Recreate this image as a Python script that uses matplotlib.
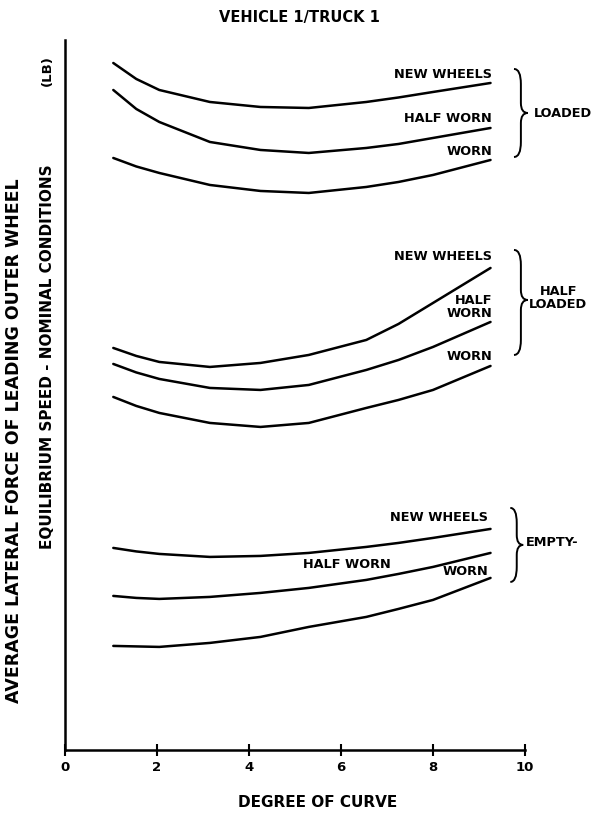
import numpy as np
import matplotlib
matplotlib.use("Agg")
import matplotlib.pyplot as plt
from matplotlib.path import Path
from matplotlib.patches import PathPatch

deg = [1.05, 1.55, 2.05, 3.15, 4.25, 5.3, 6.55, 7.25, 8.0, 9.25]

# average lateral force, arbitrary units (no y scale on the original)
loaded_new = [68.7, 67.1, 66.0, 64.8, 64.3, 64.2, 64.8, 65.25, 65.8, 66.7]
loaded_half = [66.0, 64.1, 62.8, 60.8, 60.0, 59.7, 60.2, 60.6, 61.2, 62.2]
loaded_worn = [59.2, 58.35, 57.7, 56.5, 55.9, 55.7, 56.3, 56.8, 57.5, 59.0]

halfl_new = [40.2, 39.4, 38.8, 38.3, 38.7, 39.5, 41.0, 42.6, 44.7, 48.2]
halfl_half = [38.6, 37.75, 37.1, 36.2, 36.0, 36.5, 38.0, 39.0, 40.3, 42.8]
halfl_worn = [35.3, 34.4, 33.7, 32.7, 32.3, 32.7, 34.2, 35.0, 36.0, 38.4]

empty_new = [20.2, 19.85, 19.6, 19.3, 19.4, 19.7, 20.3, 20.7, 21.2, 22.1]
empty_half = [15.4, 15.2, 15.1, 15.3, 15.7, 16.2, 17.0, 17.6, 18.3, 19.7]
empty_worn = [10.4, 10.35, 10.3, 10.7, 11.3, 12.3, 13.3, 14.1, 15.0, 17.2]

xticks = [0, 2, 4, 6, 8, 10]

FONT = "DejaVu Sans"
plt.rcParams["font.family"] = FONT

fig = plt.figure(figsize=(5.99, 8.16), dpi=100)
ax = fig.add_axes([0.1085, 0.081, 0.768, 0.870])

for ys in [loaded_new, loaded_half, loaded_worn,
           halfl_new, halfl_half, halfl_worn,
           empty_new, empty_half, empty_worn]:
    ax.plot(deg, ys, color="black", lw=1.8, solid_joinstyle="round",
            solid_capstyle="round")

ax.set_xlim(0, 10)
ax.set_ylim(0, 71)
ax.spines["top"].set_visible(False)
ax.spines["right"].set_visible(False)
ax.spines["left"].set_linewidth(1.8)
ax.spines["bottom"].set_linewidth(1.8)
ax.set_yticks([])
ax.set_xticks(xticks)
ax.set_xticklabels([str(t) for t in xticks], fontsize=9.5, fontweight="bold")
ax.tick_params(axis="x", direction="inout", length=8, width=1.5, pad=4)


def brace(x0, x1, ytop, ybot, ymid):
    xm = (x0 + x1) / 2
    verts = [(x0, ytop), (xm, ytop), (xm, ytop - 1.5),
             (xm, ymid + 1.0),
             (xm, ymid), (x1, ymid),
             (xm, ymid), (xm, ymid - 1.0),
             (xm, ybot + 1.5),
             (xm, ybot), (x0, ybot)]
    codes = [Path.MOVETO, Path.CURVE3, Path.CURVE3,
             Path.LINETO,
             Path.CURVE3, Path.CURVE3,
             Path.CURVE3, Path.CURVE3,
             Path.LINETO,
             Path.CURVE3, Path.CURVE3]
    ax.add_patch(PathPatch(Path(verts, codes), fill=False, lw=1.4,
                           color="black", clip_on=False))


brace(9.76, 10.06, 68.1, 59.3, 63.7)
brace(9.76, 10.06, 50.0, 39.5, 45.0)
brace(9.68, 9.96, 24.2, 16.8, 20.5)

kw = dict(fontsize=9.3, fontweight="bold", color="black")
ax.text(9.28, 67.5, "NEW WHEELS", ha="right", va="center", **kw)
ax.text(9.28, 63.1, "HALF WORN", ha="right", va="center", **kw)
ax.text(9.28, 59.8, "WORN", ha="right", va="center", **kw)
ax.text(10.2, 63.6, "LOADED", ha="left", va="center", clip_on=False, **kw)

ax.text(9.28, 49.3, "NEW WHEELS", ha="right", va="center", **kw)
ax.text(9.28, 44.3, "HALF\nWORN", ha="right", va="center",
        multialignment="right", linespacing=0.95, **kw)
ax.text(9.28, 39.3, "WORN", ha="right", va="center", **kw)
ax.text(10.72, 45.2, "HALF\nLOADED", ha="center", va="center",
        linespacing=1.0, clip_on=False, **kw)

ax.text(9.2, 23.2, "NEW WHEELS", ha="right", va="center", **kw)
ax.text(6.13, 18.5, "HALF WORN", ha="center", va="center", **kw)
ax.text(9.2, 17.8, "WORN", ha="right", va="center", **kw)
ax.text(10.02, 20.7, "EMPTY-", ha="left", va="center", clip_on=False, **kw)

fig.text(0.50, 0.979, "VEHICLE 1/TRUCK 1", ha="center", va="center",
         fontsize=10.5, fontweight="bold")
fig.text(0.53, 0.017, "DEGREE OF CURVE", ha="center", va="center",
         fontsize=11, fontweight="bold")
fig.text(0.024, 0.46, "AVERAGE LATERAL FORCE OF LEADING OUTER WHEEL",
         rotation=90, ha="center", va="center", fontsize=12.5, fontweight="bold")
fig.text(0.079, 0.5625, "EQUILIBRIUM SPEED - NOMINAL CONDITIONS",
         rotation=90, ha="center", va="center", fontsize=11, fontweight="bold")
fig.text(0.079, 0.914, "(LB)", rotation=90, ha="center", va="center",
         fontsize=9.5, fontweight="bold")

fig.savefig("out.png", dpi=100)
